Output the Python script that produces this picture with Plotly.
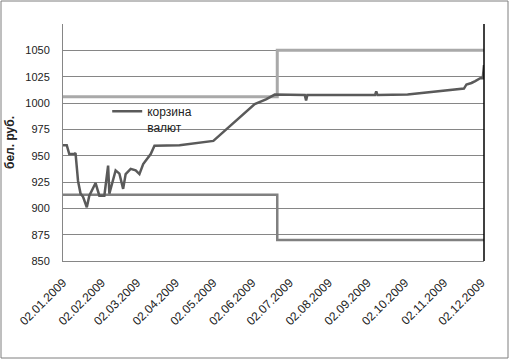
import plotly.graph_objects as go

# Currency basket (бел. руб.)
basket_dates = [
    "2009-01-02", "2009-01-05", "2009-01-07", "2009-01-11", "2009-01-12", "2009-01-14",
    "2009-01-16", "2009-01-18", "2009-01-21", "2009-01-23", "2009-01-28", "2009-01-31",
    "2009-02-04", "2009-02-07", "2009-02-08", "2009-02-11", "2009-02-13", "2009-02-16",
    "2009-02-19", "2009-02-21", "2009-02-25", "2009-03-01", "2009-03-04", "2009-03-07",
    "2009-03-11", "2009-03-13", "2009-03-16", "2009-04-05", "2009-05-02", "2009-06-04",
    "2009-06-13", "2009-06-20", "2009-07-14", "2009-07-15", "2009-07-16", "2009-09-08",
    "2009-09-09", "2009-09-10", "2009-10-04", "2009-11-18", "2009-11-20", "2009-11-24",
    "2009-11-27", "2009-12-01", "2009-12-03", "2009-12-04",
]
basket_values = [
    960, 960, 951.5, 951.5, 952.5, 926,
    914, 911, 901, 912, 924, 912,
    912, 940.5, 914, 926, 936, 933,
    918.5, 932.5, 937.5, 936, 932.5, 942,
    948.5, 951.5, 959.5, 960, 964, 999,
    1003.5, 1008, 1007.5, 1002.5, 1007.5, 1007.5,
    1011, 1007.5, 1008, 1013.7, 1017.6, 1019,
    1020.8, 1023.5, 1023.5, 1036,
]

# Corridor bounds
corridor_dates = ["2009-01-02", "2009-06-22", "2009-06-22", "2009-12-04"]
upper_values = [1006, 1006, 1050, 1050]
lower_values = [913, 913, 870, 870]

# Axis ticks
x_tick_dates = ["2009-%02d-02" % m for m in range(1, 13)]
x_tick_labels = ["02.%02d.2009" % m for m in range(1, 13)]
y_tick_values = [850, 875, 900, 925, 950, 975, 1000, 1025, 1050]

legend_name = "корзина<br>валют"
y_title = "бел. руб."

FONT = "Liberation Sans"

fig = go.Figure()
fig.add_trace(go.Scatter(x=corridor_dates, y=upper_values, mode="lines",
                         line=dict(color="#a9a9a9", width=3), showlegend=False, hoverinfo="skip"))
fig.add_trace(go.Scatter(x=corridor_dates, y=lower_values, mode="lines",
                         line=dict(color="#808080", width=2.5), showlegend=False, hoverinfo="skip"))
fig.add_trace(go.Scatter(x=basket_dates, y=basket_values, mode="lines", name=legend_name,
                         line=dict(color="#5a5a5a", width=2.5)))

fig.update_layout(
    width=510, height=360,
    margin=dict(l=63, r=26, t=24, b=99, autoexpand=False),
    paper_bgcolor="white", plot_bgcolor="white",
    font=dict(family=FONT, size=11, color="#222222"),
    showlegend=True,
    legend=dict(x=0.105, y=0.692, xanchor="left", yanchor="top", bgcolor="rgba(0,0,0,0)",
                borderwidth=0, valign="top", font=dict(size=12, color="#222222"),
                itemwidth=30),
)

fig.update_xaxes(
    type="date", range=["2009-01-02", "2009-12-04"],
    tickvals=x_tick_dates, ticktext=x_tick_labels, tickangle=-45,
    showgrid=False, zeroline=False, showline=True, linecolor="#868686", linewidth=1,
    ticks="", ticklabelstandoff=9, tickfont=dict(size=12),
)
fig.update_yaxes(
    range=[850, 1075], tickvals=y_tick_values,
    showgrid=True, gridcolor="#868686", gridwidth=1, zeroline=False,
    showline=True, linecolor="#868686", linewidth=1, ticks="", ticklabelstandoff=10,
    tickfont=dict(size=11),
    title=dict(text="<b>" + y_title + "</b>", font=dict(size=12, color="#222222"), standoff=8),
)

# right black axis line and outer border
fig.add_shape(type="line", xref="paper", yref="paper", x0=1, x1=1, y0=0, y1=1,
              line=dict(color="black", width=1.5))
fig.add_shape(type="rect", xref="paper", yref="paper",
              x0=(1 - 63) / 421, x1=(508 - 63) / 421, y0=(261 - 358) / 237, y1=(261 - 1) / 237,
              line=dict(color="#7f7f7f", width=1), fillcolor="rgba(0,0,0,0)", layer="below")

fig.write_html("out.html", config={"displayModeBar": False},
               post_script="document.body.style.margin='0';document.body.style.overflow='hidden';")
